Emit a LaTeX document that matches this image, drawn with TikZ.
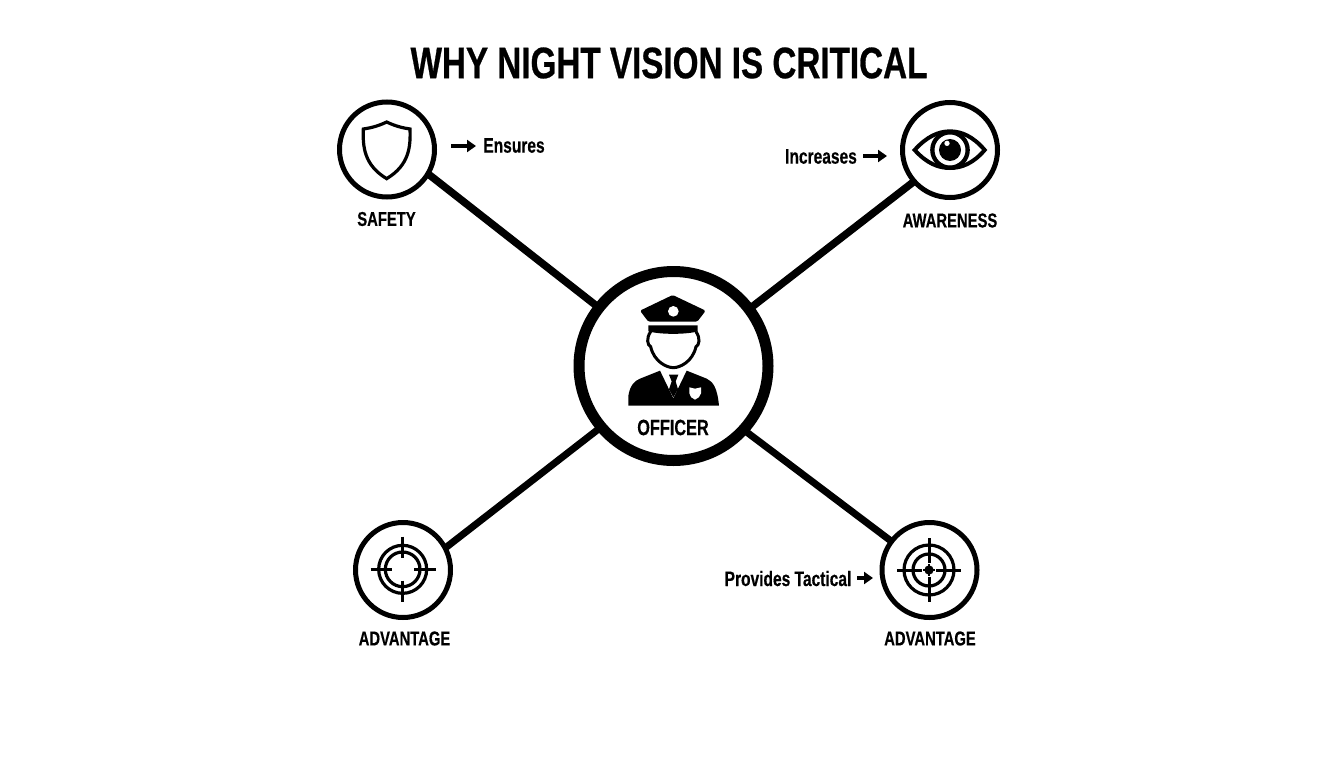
\documentclass[tikz,border=0pt]{standalone}
\usepackage{fontspec}
\setmainfont{Liberation Sans}
\newfontfamily\condfont{Liberation Sans}[FakeStretch=0.74,FakeBold=0.4]
\newfontfamily\headfont{Liberation Sans}[FakeStretch=0.755,FakeBold=0.6]
\usetikzlibrary{arrows.meta}
\tikzset{
  ringsmall/.style={circle,draw=black,fill=white,line width=5pt,minimum size=95pt,inner sep=0pt},
  ringbig/.style={circle,draw=black,fill=white,line width=11pt,minimum size=189pt,inner sep=0pt},
  link/.style={line width=7.5pt,draw=black,shorten <=-2pt,shorten >=-3pt},
  lab/.style={inner sep=0pt,font=\condfont\bfseries\fontsize{20}{20}\selectfont,text=black},
  verb/.style={inner sep=0pt,font=\condfont\bfseries\fontsize{21}{21}\selectfont,text=black},
  titlelab/.style={inner sep=0pt,font=\headfont\bfseries\fontsize{44}{44}\selectfont,text=black},
  pointer/.style={line width=3.4pt,draw=black,-{Triangle[length=9pt,width=12pt]}},
  iconline/.style={draw=black,line width=3.2pt,fill=none}
}
\begin{document}
\begin{tikzpicture}[x=1pt,y=-1pt]
\useasboundingbox (0,0) rectangle (1344,768);
\fill[white] (0,0) rectangle (1344,768);

\node[ringsmall] (safety) at (387,149.5) {};
\node[ringsmall] (aware) at (950,150) {};
\node[ringsmall] (advl) at (403,570) {};
\node[ringsmall] (advr) at (929.5,570) {};
\node[ringbig] (officer) at (673.5,366) {};

\draw[link] (safety.-31) -- (officer.142);
\draw[link] (aware.221) -- (officer.37);
\draw[link,line width=7pt] (advl.28) -- (officer.220);
\draw[link,line width=7pt] (advr.143) -- (officer.-42);

\node[titlelab] (title) at (669,63) {WHY NIGHT VISION IS CRITICAL};
\node[lab] (lsafety) at (386.5,219) {SAFETY};
\node[lab] (laware) at (950,220.5) {AWARENESS};
\node[lab] (ladvl) at (404.5,638.5) {ADVANTAGE};
\node[lab] (ladvr) at (930,638.5) {ADVANTAGE};
\node[lab,font=\condfont\bfseries\fontsize{22}{22}\selectfont] (loff) at (673,427.5) {OFFICER};
\node[verb] (ensures) at (514,145.5) {Ensures};
\node[verb] (incr) at (821,156.5) {Increases};
\node[verb] (prov) at (788,578.5) {Provides Tactical};

\coordinate (a1s) at (451,146); \coordinate (a1e) at (476,146);
\coordinate (a2s) at (863,156); \coordinate (a2e) at (887,156);
\coordinate (a3s) at (857,578); \coordinate (a3e) at (873,578);
\draw[pointer] (a1s) -- (a1e);
\draw[pointer] (a2s) -- (a2e);
\draw[pointer] (a3s) -- (a3e);

% officer icon (zoom coordinates)
\begin{scope}[shift={(560,260)},x=0.33333pt,y=-0.33333pt]
  \fill[black,rounded corners=1.5pt] (338,105) -- (437,152) -- (412,185) -- (265,185) -- (240,152) -- cycle;
  \fill[white] (340,154) circle[radius=16];
  \draw[black,line width=3pt,fill=white] (272,215) .. controls (258,235) and (262,255) .. (272,260)
     .. controls (282,305) and (320,323) .. (340,323)
     .. controls (360,323) and (398,305) .. (408,260)
     .. controls (418,255) and (422,235) .. (408,215);
  \fill[black] (265,196) -- (413,196) -- (413,214) .. controls (380,224) and (300,224) .. (265,214) -- cycle;
  \fill[black] (205,437) -- (205,408) .. controls (210,375) and (225,362) .. (240,356)
     -- (300,332) -- (340,415) -- (380,332) -- (440,356)
     .. controls (460,365) and (472,385) .. (477,437) -- cycle;
  \fill[black] (327,344) -- (355,344) -- (347,364) -- (354,388) -- (340,412) -- (327,388) -- (335,364) -- cycle;
  \fill[white] (388,382) -- (405,386) -- (423,382) -- (423,400) .. controls (422,410) and (413,415) .. (405,419)
     .. controls (397,415) and (388,410) .. (388,400) -- cycle;
\end{scope}

% shield
\begin{scope}[shift={(320,90)},x=0.33333pt,y=-0.33333pt]
  \draw[iconline,line join=miter] (200,96) .. controls (225,108) and (248,114) .. (270,117)
    .. controls (272,170) and (268,225) .. (200,266)
    .. controls (132,225) and (128,170) .. (130,117)
    .. controls (152,114) and (175,108) .. (200,96) -- cycle;
\end{scope}

% eye
\begin{scope}[shift={(770,90)},x=0.33333pt,y=-0.33333pt]
  \draw[iconline,line width=4pt] (434,180) .. controls (470,140) and (505,124) .. (540,124)
    .. controls (575,124) and (610,140) .. (644,180)
    .. controls (610,220) and (575,234) .. (540,234)
    .. controls (505,234) and (470,220) .. (434,180) -- cycle;
  \draw[iconline,line width=4.3pt] (540,180) circle[radius=53];
  \fill[black] (540,180) circle[radius=33];
  \fill[white] (531,160) circle[radius=8];
\end{scope}

% left target
\begin{scope}[shift={(340,510)},x=0.33333pt,y=-0.33333pt]
  \draw[iconline] (188,178) circle[radius=72];
  \draw[iconline] (188,178) circle[radius=52];
  \draw[iconline,line width=3pt] (92,178) -- (155,178) (222,178) -- (287,178)
     (188,80) -- (188,145) (188,212) -- (188,275);
\end{scope}

% right target
\begin{scope}[shift={(715,510)},x=0.33333pt,y=-0.33333pt]
  \draw[iconline] (642,180) circle[radius=75];
  \draw[iconline] (642,180) circle[radius=48];
  \draw[iconline,line width=3pt] (547,180) -- (620,180) (664,180) -- (737,180)
     (642,85) -- (642,158) (642,202) -- (642,277);
  \fill[black] (642,180) circle[radius=14];
  \draw[black,line width=1.8pt] (624,180) -- (660,180) (642,162) -- (642,198);
\end{scope}
\end{tikzpicture}
\end{document}
